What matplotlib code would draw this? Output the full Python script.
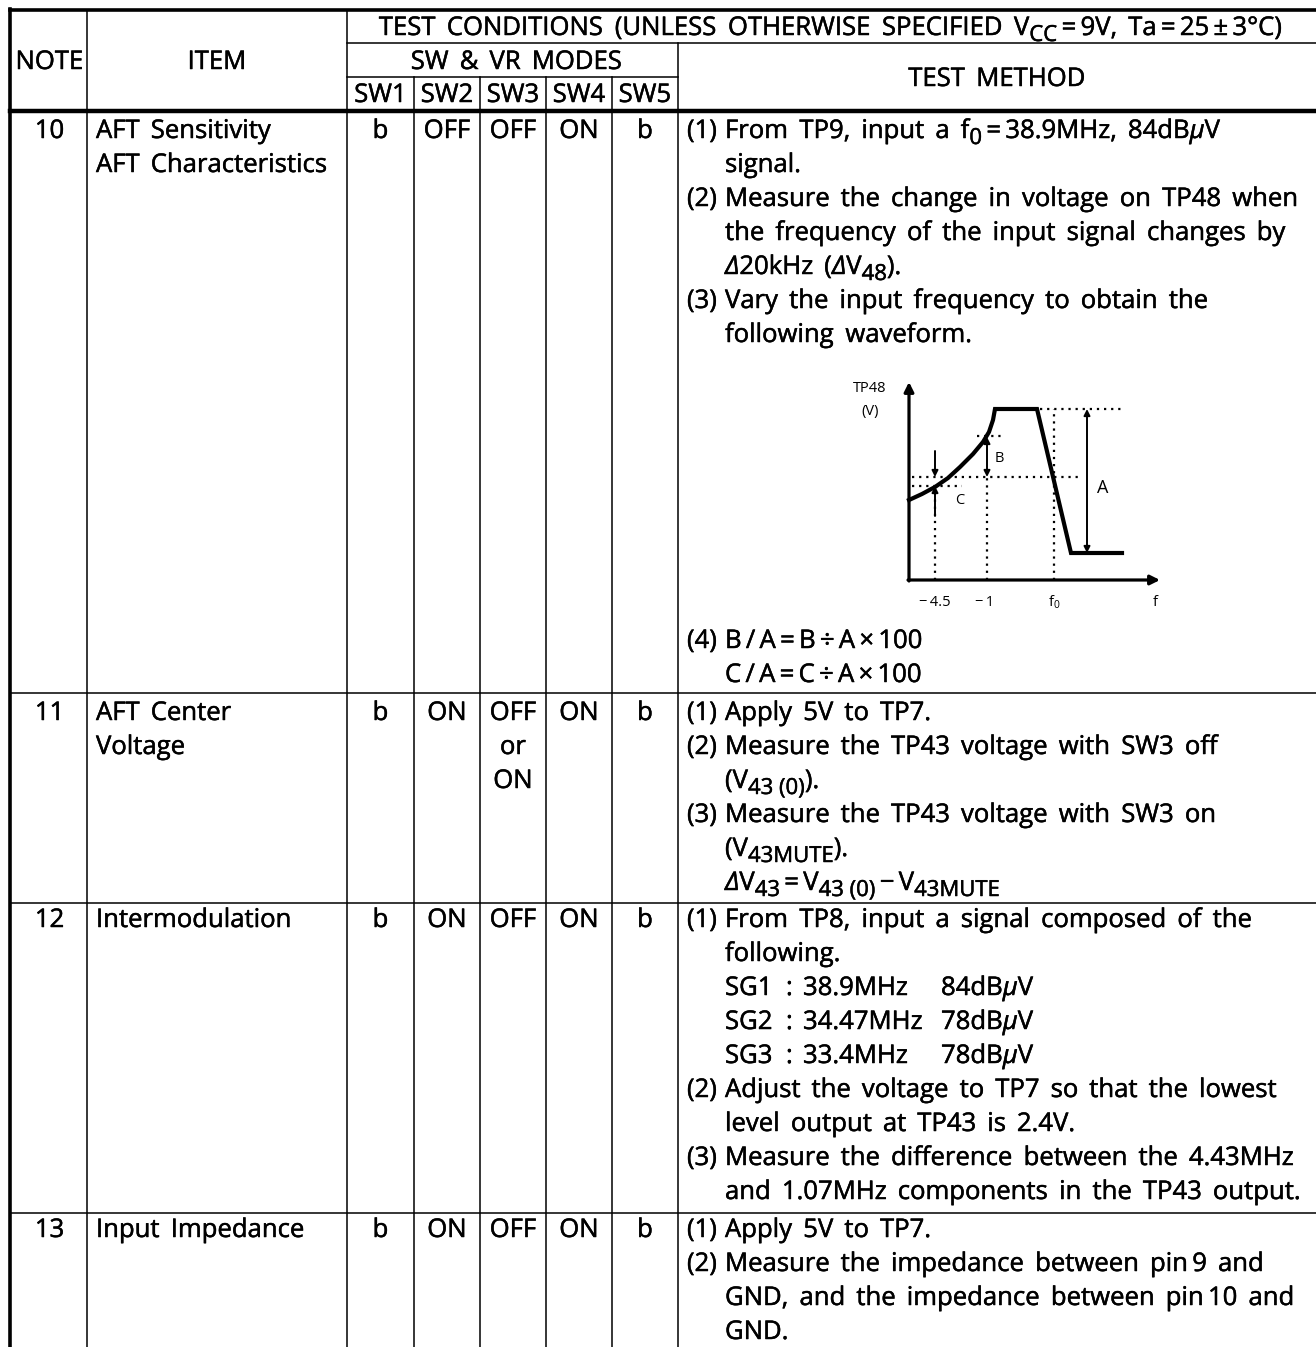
import re
import matplotlib
matplotlib.use('Agg')
import matplotlib.pyplot as plt
import matplotlib.patheffects as pe

plt.rcParams['font.family'] = ['Open Sans', 'DejaVu Sans']
plt.rcParams['font.weight'] = 500
plt.rcParams['mathtext.fontset'] = 'custom'
plt.rcParams['mathtext.rm'] = 'Open Sans'
plt.rcParams['mathtext.it'] = 'Open Sans:italic'

W, H = 1316, 1347
FS = 18.5
GAP = 11
STEP = 34
BOLDEN = [pe.withStroke(linewidth=0.35, foreground='k')]

# ---------------- table content ----------------
# markup: _{..} subscript, `{..} italic, spaces = word gaps
header_top = 'TEST CONDITIONS (UNLESS OTHERWISE SPECIFIED V_{CC}\u2009=\u20099V, Ta\u2009=\u200925\u2009±\u20093°C)'
sw_names = ['SW1', 'SW2', 'SW3', 'SW4', 'SW5']
notes = ['10', '11', '12', '13']
items = [['AFT Sensitivity', 'AFT Characteristics'],
         ['AFT Center', 'Voltage'],
         ['Intermodulation'],
         ['Input Impedance']]
sw_modes = [[['b'], ['OFF'], ['OFF'], ['ON'], ['b']],
            [['b'], ['ON'], ['OFF', 'or', 'ON'], ['ON'], ['b']],
            [['b'], ['ON'], ['OFF'], ['ON'], ['b']],
            [['b'], ['ON'], ['OFF'], ['ON'], ['b']]]

# (indent level, text); None = empty line
methods = [
    [(0, '(1) From TP9, input a f_{0}\u2009=\u200938.9MHz, 84dB`{μ}V'),
     (1, 'signal.'),
     (0, '(2) Measure the change in voltage on TP48 when'),
     (1, 'the frequency of the input signal changes by'),
     (1, '`{Δ}20kHz (`{Δ}V_{48}).'),
     (0, '(3) Vary the input frequency to obtain the'),
     (1, 'following waveform.'),
     None, None, None, None, None, None, None, None,
     (0, '(4) B\u2009/\u2009A\u2009=\u2009B\u2009÷\u2009A\u2009×\u2009100'),
     (1, 'C\u2009/\u2009A\u2009=\u2009C\u2009÷\u2009A\u2009×\u2009100')],
    [(0, '(1) Apply 5V to TP7.'),
     (0, '(2) Measure the TP43 voltage with SW3 off'),
     (1, '(V_{43\u00a0(0)}).'),
     (0, '(3) Measure the TP43 voltage with SW3 on'),
     (1, '(V_{43MUTE}).'),
     (1, '`{Δ}V_{43}\u2009=\u2009V_{43\u00a0(0)}\u2009−\u2009V_{43MUTE}')],
    [(0, '(1) From TP8, input a signal composed of the'),
     (1, 'following.'),
     None, None, None,
     (0, '(2) Adjust the voltage to TP7 so that the lowest'),
     (1, 'level output at TP43 is 2.4V.'),
     (0, '(3) Measure the difference between the 4.43MHz'),
     (1, 'and 1.07MHz components in the TP43 output.')],
    [(0, '(1) Apply 5V to TP7.'),
     (0, '(2) Measure the impedance between pin\u20099 and'),
     (1, 'GND, and the impedance between pin\u200910 and'),
     (1, 'GND.')],
]
sg_names = ['SG1', 'SG2', 'SG3']
sg_freqs = ['38.9MHz', '34.47MHz', '33.4MHz']
sg_levels = ['84dB`{μ}V', '78dB`{μ}V', '78dB`{μ}V']

# ---------------- waveform sketch (arbitrary units) ----------------
wave_f = [0, 13, 26, 39, 51, 64, 74, 80, 84, 86, 128, 162, 213]
wave_v = [80, 86, 93, 102, 113, 126, 138, 148, 160, 171, 171, 27, 27]
lvl_top, lvl_b, lvl_mid, lvl_c, lvl_low = 171, 144, 103, 94, 27
f_45, f_1, f_0, f_a = 26, 78, 145, 178
tick_pos = [26, 76, 145, 246]
tick_txt = ['\u2212\u20094.5', '\u2212\u20091', 'f$_0$', 'f']

# ---------------- layout ----------------
x_left = 10
col_x = [87, 347, 414, 480, 546, 612, 678]
y_top, y_cond, y_sw, y_head = 10, 43, 77, 111
row_y = [111, 693, 903, 1213, H]
row_first = [130, 712, 919, 1229]
x_m0, x_m1 = 687, 725

fig = plt.figure(figsize=(W / 100, H / 100), dpi=100)
ax = fig.add_axes([0, 0, 1, 1])
ax.set_xlim(0, W)
ax.set_ylim(H, 0)
ax.axis('off')
renderer = fig.canvas.get_renderer()


def split_parts(word):
    parts = []
    for m in re.finditer(r'_\{(.*?)\}|`\{(.*?)\}|([^_`]+)', word):
        if m.group(1) is not None:
            parts.append(('sub', m.group(1)))
        elif m.group(2) is not None:
            parts.append(('it', m.group(2)))
        else:
            parts.append(('rm', m.group(3)))
    return parts


def put_words(x, y, text, ha='left', size=FS, gap=GAP):
    # words placed one by one so the spaces come out wide like the original
    words = []
    for w in text.split(' '):
        arts = []
        for kind, s in split_parts(w):
            if kind == 'sub':
                a = ax.text(0, y + 8 + 6, s, fontsize=size * 0.86, va='baseline')
            elif kind == 'it':
                a = ax.text(0, y + 8, s, fontsize=size, va='baseline', style='italic')
            else:
                a = ax.text(0, y + 8, s, fontsize=size, va='baseline')
            a.set_path_effects(BOLDEN)
            arts.append((a, a.get_window_extent(renderer).width))
        words.append(arts)
    widths = [sum(wd for _, wd in arts) for arts in words]
    total = sum(widths) + gap * (len(words) - 1)
    x0 = x - total / 2 if ha == 'center' else x
    for arts, wsum in zip(words, widths):
        xx = x0
        for a, wd in arts:
            a.set_x(xx)
            xx += wd
        x0 += wsum + gap


def put_method(y, lvl, txt):
    if lvl == 0 and txt.startswith('('):
        mark, rest = txt.split(' ', 1)
        put_words(x_m0, y, mark)
        put_words(x_m1, y, rest)
    else:
        put_words(x_m1, y, txt)


# lines
thin, thick = 1.1, 2.6
ax.plot([x_left, W], [y_top, y_top], color='k', lw=thick)
ax.plot([col_x[1], W], [y_cond, y_cond], color='k', lw=thin)
ax.plot([col_x[1], col_x[6]], [y_sw, y_sw], color='k', lw=thin)
ax.plot([x_left, W], [y_head, y_head], color='k', lw=3.2)
for y in row_y[1:-1]:
    ax.plot([x_left, W], [y, y], color='k', lw=thin)
ax.plot([x_left, x_left], [y_top - 1, H], color='k', lw=thick)
for x in col_x[:2]:
    ax.plot([x, x], [y_top, H], color='k', lw=thin)
for x in col_x[2:6]:
    ax.plot([x, x], [y_sw, H], color='k', lw=thin)
ax.plot([col_x[6], col_x[6]], [y_cond, H], color='k', lw=thin)

# header text
put_words((x_left + col_x[0]) / 2 + 1, 61, 'NOTE', ha='center')
put_words((col_x[0] + col_x[1]) / 2, 61, 'ITEM', ha='center')
put_words((col_x[1] + W) / 2 - 1, 27, header_top, ha='center')
put_words((col_x[1] + col_x[6]) / 2 + 4, 61, 'SW & VR MODES', ha='center', gap=11)
for i, name in enumerate(sw_names):
    put_words((col_x[1 + i] + col_x[2 + i]) / 2, 94, name, ha='center')
put_words((col_x[6] + W) / 2, 78, 'TEST METHOD', ha='center')

# body
for r in range(4):
    y0 = row_first[r]
    put_words((x_left + col_x[0]) / 2 + 1, y0, notes[r], ha='center')
    for k, line in enumerate(items[r]):
        put_words(col_x[0] + 9, y0 + k * STEP, line)
    for c in range(5):
        for k, val in enumerate(sw_modes[r][c]):
            put_words((col_x[1 + c] + col_x[2 + c]) / 2, y0 + k * STEP, val, ha='center')
    for k, line in enumerate(methods[r]):
        if line is not None:
            put_method(y0 + k * STEP, *line)

# signal generator list in row 12
for k in range(3):
    y = row_first[2] + (k + 2) * STEP
    put_words(x_m1, y, sg_names[k])
    put_words(786, y, ':')
    put_words(803, y, sg_freqs[k])
    put_words(941, y, sg_levels[k])

# waveform sketch
dx0, dx1, dy0, dy1 = 909, 1160, 580, 382
wax = fig.add_axes([dx0 / W, (H - dy0) / H, (dx1 - dx0) / W, (dy0 - dy1) / H])
wax.set_xlim(0, dx1 - dx0)
wax.set_ylim(0, dy0 - dy1)
wax.axis('off')
dot = dict(color='k', lw=1.6, ls=(0, (1, 2.2)))
wax.plot([131, 214], [lvl_top, lvl_top], **dot)
wax.plot([f_0, f_0], [0, lvl_top], **dot)
wax.plot([68, 94], [lvl_b, lvl_b], **dot)
wax.plot([3, 171], [lvl_mid, lvl_mid], **dot)
wax.plot([3, 53], [lvl_c, lvl_c], **dot)
wax.plot([f_45, f_45], [0, lvl_c], **dot)
wax.plot([f_1, f_1], [0, lvl_mid], **dot)
wax.plot(wave_f, wave_v, color='k', lw=3.0, solid_joinstyle='miter', clip_on=False)

ah = dict(arrowstyle='-|>', color='k', lw=2.3, mutation_scale=14, shrinkA=0, shrinkB=0)
wax.annotate('', xy=(0, dy0 - dy1), xytext=(0, -1), arrowprops=ah, annotation_clip=False)
wax.annotate('', xy=(dx1 - dx0, 0), xytext=(-1, 0), arrowprops=ah, annotation_clip=False)
ad = dict(arrowstyle='<|-|>', color='k', lw=1.4, mutation_scale=9, shrinkA=0, shrinkB=0)
wax.annotate('', xy=(f_a, lvl_top), xytext=(f_a, lvl_low), arrowprops=ad)
wax.annotate('', xy=(f_1, lvl_b - 1), xytext=(f_1, lvl_mid), arrowprops=ad)
a1 = dict(arrowstyle='-|>', color='k', lw=1.4, mutation_scale=9, shrinkA=0, shrinkB=0)
wax.annotate('', xy=(f_45, lvl_mid), xytext=(f_45, 129), arrowprops=a1)
wax.annotate('', xy=(f_45, lvl_c), xytext=(f_45, 64), arrowprops=a1)

sfs = 10.5
wax.text(90, 121, 'B', fontsize=sfs, va='center', ha='center')
wax.text(194, 92, 'A', fontsize=sfs + 2.5, va='center', ha='center')
wax.text(51, 80, 'C', fontsize=sfs, va='center', ha='center')
wax.text(-39, 192, 'TP48', fontsize=sfs, va='center', ha='center', clip_on=False)
wax.text(-39, 168, '(V)', fontsize=sfs, va='center', ha='center', clip_on=False)
for p, t in zip(tick_pos, tick_txt):
    wax.text(p, -22, t, fontsize=sfs, va='center', ha='center', clip_on=False)

fig.savefig('out.png', dpi=100)
